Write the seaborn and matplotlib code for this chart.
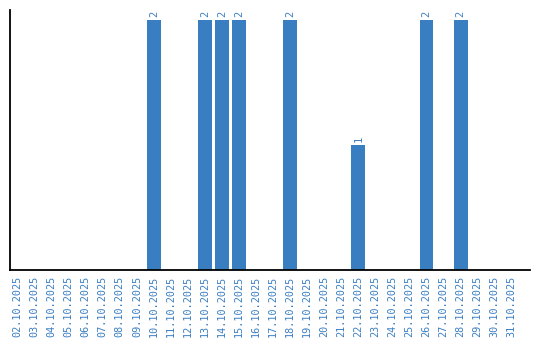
import matplotlib
matplotlib.use("Agg")
import matplotlib.pyplot as plt
import seaborn as sns
import pandas as pd

dates = ["02.10.2025", "03.10.2025", "04.10.2025", "05.10.2025", "06.10.2025",
         "07.10.2025", "08.10.2025", "09.10.2025", "10.10.2025", "11.10.2025",
         "12.10.2025", "13.10.2025", "14.10.2025", "15.10.2025", "16.10.2025",
         "17.10.2025", "18.10.2025", "19.10.2025", "20.10.2025", "21.10.2025",
         "22.10.2025", "23.10.2025", "24.10.2025", "25.10.2025", "26.10.2025",
         "27.10.2025", "28.10.2025", "29.10.2025", "30.10.2025", "31.10.2025"]
counts = [0, 0, 0, 0, 0, 0, 0, 0, 2, 0,
          0, 2, 2, 2, 0, 0, 2, 0, 0, 0,
          1, 0, 0, 0, 2, 0, 2, 0, 0, 0]

color = "#3a7ec2"
df = pd.DataFrame({"date": dates, "count": counts})

sns.set_style("white")
fig = plt.figure(figsize=(5.4, 3.4), dpi=100)
ax = fig.add_axes([0.0194, 0.206, 0.9616, 0.764])
sns.barplot(data=df, x="date", y="count", color=color, saturation=1,
            width=0.82, linewidth=0, ax=ax)

labels = [str(c) if c else "" for c in counts]
ax.bar_label(ax.containers[0], labels=labels, rotation=90, padding=2,
             color=color, fontsize=7.5, family="DejaVu Sans Mono")

ax.set_xlim(-0.42, 30.06)
ax.set_ylim(0, 2.08)
ax.set_xlabel("")
ax.set_ylabel("")
ax.set_yticks([])
ax.tick_params(axis="x", length=0, pad=4, labelsize=7.3, labelcolor=color,
               rotation=90)
for lbl in ax.get_xticklabels():
    lbl.set_family("DejaVu Sans Mono")
for s in ["top", "right"]:
    ax.spines[s].set_visible(False)
for s in ["left", "bottom"]:
    ax.spines[s].set_color("black")
    ax.spines[s].set_linewidth(1.3)

fig.savefig("out.png", dpi=100)
